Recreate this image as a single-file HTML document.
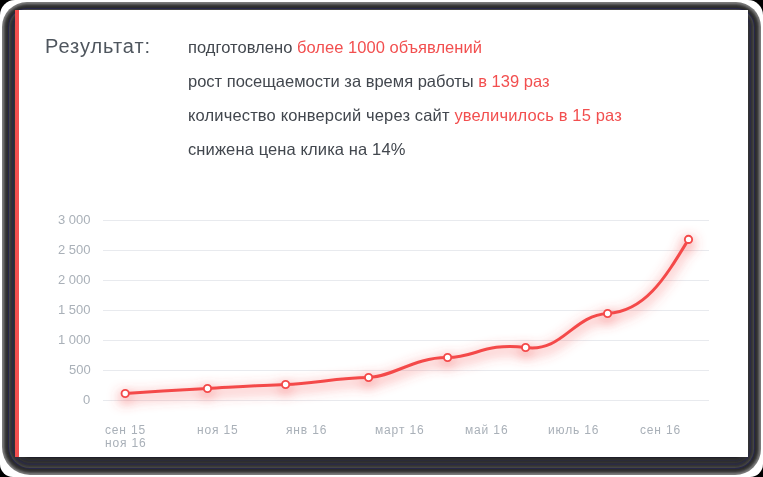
<!DOCTYPE html>
<html><head><meta charset="utf-8">
<style>
*{margin:0;padding:0;box-sizing:border-box}
html,body{width:763px;height:477px;overflow:hidden;background:#000}
body{position:relative;font-family:"Liberation Sans",sans-serif}
.t,#h,.yl,.xl{will-change:transform}
.a{position:absolute}
#w{left:0;top:0;width:763px;height:477px;background:#fff;border-radius:15px 15px 13px 13px}
.r{position:absolute}
#c{left:15px;top:10px;width:733px;height:447px;background:#fff;border-left:4px solid #f24f4f}
.t{position:absolute;white-space:nowrap;font-size:16.5px;line-height:19px;color:#42474e}
.t b{font-weight:normal;color:#f24f4f}
#h{position:absolute;left:45px;top:35px;font-size:20px;line-height:23px;color:#4f565e;letter-spacing:0.95px;white-space:nowrap}
.yl{position:absolute;right:672.5px;font-size:13px;line-height:15px;color:#a9b0b8;text-align:right;white-space:nowrap}
.xl{position:absolute;font-size:12px;line-height:13px;color:#a9b0b8;white-space:nowrap;letter-spacing:0.85px}
svg{position:absolute;left:0;top:0}
</style></head><body>
<div id="w" class="a"></div>
<div class="r" style="left:2px;top:2px;right:2px;bottom:2px;border-radius:25px 25px 26px 28px;background:#7a7a7a"></div>
<div class="r" style="left:3px;top:3px;right:3px;bottom:3px;border-radius:24px 24px 25px 27px;background:#6c6c6c"></div>
<div class="r" style="left:4px;top:4px;right:4px;bottom:4px;border-radius:23px 23px 24px 26px;background:#525252"></div>
<div class="r" style="left:5px;top:5px;right:5px;bottom:5px;border-radius:22px 22px 23px 25px;background:#3c3c3c"></div>
<div class="r" style="left:6px;top:6px;right:6px;bottom:6px;border-radius:21px 21px 22px 24px;background:#313131"></div>
<div class="r" style="left:7px;top:7px;right:7px;bottom:7px;border-radius:20px 20px 21px 23px;background:#2c2c2c"></div>
<div class="r" style="left:8px;top:8px;right:8px;bottom:8px;border-radius:19px 19px 20px 22px;background:#27274a"></div>
<div class="r" style="left:9px;top:9px;right:9px;bottom:9px;border-radius:18px 18px 19px 21px;background:#444"></div>
<div class="r" style="left:10px;top:10px;right:10px;bottom:10px;border-radius:17px 17px 18px 20px;background:#3a3a3a"></div>
<div class="r" style="left:11px;top:11px;right:11px;bottom:11px;border-radius:16px 16px 17px 19px;background:#333"></div>
<div class="r" style="left:12px;top:12px;right:12px;bottom:12px;border-radius:15px 15px 16px 18px;background:#2b2b45"></div>
<div class="r" style="left:13px;top:13px;right:13px;bottom:13px;border-radius:14px 14px 15px 17px;background:#2c2c3a"></div>
<div class="r" style="left:14px;top:14px;right:14px;bottom:14px;border-radius:13px 13px 14px 16px;background:#333"></div>
<div class="r" style="left:15px;top:15px;right:15px;bottom:15px;border-radius:12px 12px 13px 15px;background:#2e2e2e"></div>
<div class="r" style="left:16px;top:16px;right:16px;bottom:16px;border-radius:11px 11px 12px 14px;background:#2b2b3a"></div>
<div class="r" style="left:17px;top:17px;right:17px;bottom:17px;border-radius:10px 10px 11px 13px;background:#2e2e2e"></div>
<div class="r" style="left:18px;top:18px;right:18px;bottom:18px;border-radius:9px 9px 10px 12px;background:#2a2a2a"></div>
<div class="r" style="left:19px;top:19px;right:19px;bottom:19px;border-radius:8px 8px 9px 11px;background:#1f1f29"></div>
<div id="c" class="a"></div>

<div id="h">Результат:</div>
<div class="t" style="left:188px;top:38px;letter-spacing:0.04px">подготовлено <b>более 1000 объявлений</b></div>
<div class="t" style="left:188px;top:72px">рост посещаемости за время работы <b>в 139 раз</b></div>
<div class="t" style="left:188px;top:106px;letter-spacing:0.15px">количество конверсий через сайт <b>увеличилось в 15 раз</b></div>
<div class="t" style="left:188px;top:140px;letter-spacing:0.12px">снижена цена клика на 14%</div>

<svg width="763" height="477" viewBox="0 0 763 477">
<defs>
<filter id="g" x="-20%" y="-50%" width="140%" height="200%">
<feDropShadow dx="0" dy="4" stdDeviation="6.5" flood-color="#f44a4a" flood-opacity="1"/>
</filter>
</defs>
<g stroke="#e8eaee" stroke-width="1">
<line x1="103" y1="220.5" x2="709" y2="220.5"/>
<line x1="103" y1="250.5" x2="709" y2="250.5"/>
<line x1="103" y1="280.5" x2="709" y2="280.5"/>
<line x1="103" y1="310.5" x2="709" y2="310.5"/>
<line x1="103" y1="340.5" x2="709" y2="340.5"/>
<line x1="103" y1="370.5" x2="709" y2="370.5"/>
<line x1="103" y1="400.5" x2="709" y2="400.5"/>
</g>
<g filter="url(#g)">
<path d="M125.2,393.5 C152.6,391.7 180.1,390.0 207.5,388.5 C233.5,387.1 259.6,385.4 285.6,384.5 C313.7,383.5 338.0,377.8 368.6,377.5 C391.8,377.3 414.8,357.0 447.6,357.5 C473.8,357.9 485.5,342.2 525.6,347.5 C563.1,352.5 572.3,315.5 607.6,313.5 C645.3,311.4 665.0,278.0 688.5,239.4" fill="none" stroke="#f44a4a" stroke-width="3" stroke-linecap="round"/>
<g fill="#fff" stroke="#f44a4a" stroke-width="1.9">
<circle cx="125.2" cy="393.5" r="3.65"/>
<circle cx="207.5" cy="388.5" r="3.65"/>
<circle cx="285.6" cy="384.5" r="3.65"/>
<circle cx="368.6" cy="377.5" r="3.65"/>
<circle cx="447.6" cy="357.5" r="3.65"/>
<circle cx="525.6" cy="347.5" r="3.65"/>
<circle cx="607.6" cy="313.5" r="3.65"/>
<circle cx="688.5" cy="239.4" r="3.65"/>
</g>
</g>
</svg>

<div class="yl" style="top:212px">3 000</div>
<div class="yl" style="top:242px">2 500</div>
<div class="yl" style="top:272px">2 000</div>
<div class="yl" style="top:302px">1 500</div>
<div class="yl" style="top:332px">1 000</div>
<div class="yl" style="top:362px">500</div>
<div class="yl" style="top:392px">0</div>

<div class="xl" style="left:105px;top:424px">сен 15<br>ноя 16</div>
<div class="xl" style="left:197px;top:424px">ноя 15</div>
<div class="xl" style="left:286px;top:424px">янв 16</div>
<div class="xl" style="left:375px;top:424px">март 16</div>
<div class="xl" style="left:465px;top:424px">май 16</div>
<div class="xl" style="left:548px;top:424px">июль 16</div>
<div class="xl" style="left:640px;top:424px">сен 16</div>
</body></html>
